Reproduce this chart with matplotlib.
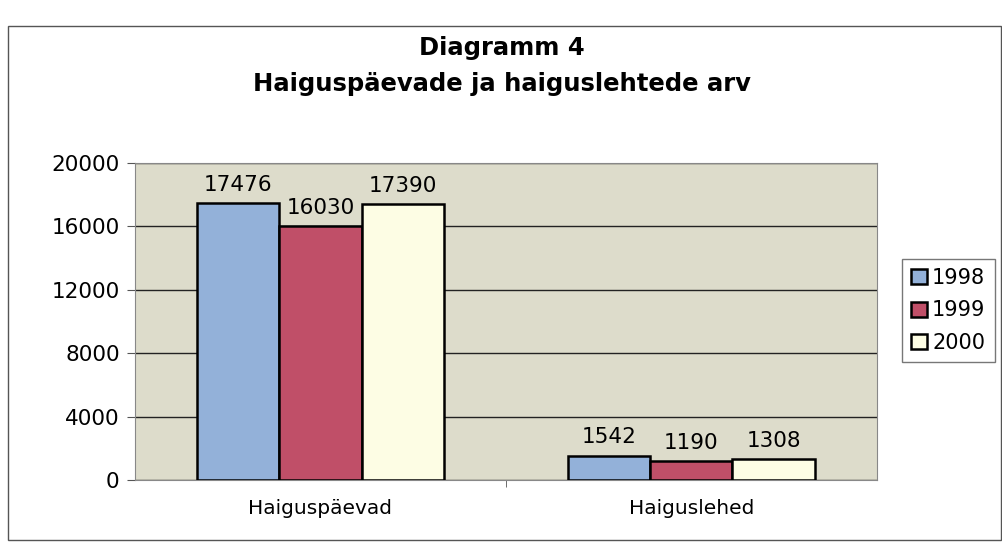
import numpy as np
import matplotlib.pyplot as plt
from matplotlib.patches import Rectangle

categories = ['Haiguspäevad', 'Haiguslehed']
years = ['1998', '1999', '2000']
values_1998 = [17476, 1542]
values_1999 = [16030, 1190]
values_2000 = [17390, 1308]
yticks = [0, 4000, 8000, 12000, 16000, 20000]

plt.rcParams['font.family'] = ['DejaVu Sans']

fig = plt.figure(figsize=(10.03, 5.47), dpi=100)
ax = fig.add_axes([0.1346, 0.1225, 0.7394, 0.5795])

#outer chart frame
fig.patches.append(Rectangle((0.008, 0.012), 0.99, 0.94, transform=fig.transFigure,
                             fill=False, edgecolor='#555555', linewidth=1.0))

x = np.arange(len(categories))
w = 0.222
colors = ['#93b1d9', '#c04f68', '#fdfde4']
series = [values_1998, values_1999, values_2000]
for i, (vals, c, lab) in enumerate(zip(series, colors, years)):
    bars = ax.bar(x + (i - 1) * w, vals, w, color=c, edgecolor='black', linewidth=1.8,
                  label=lab, zorder=3)
    for b, v in zip(bars, vals):
        ax.annotate(str(v), (b.get_x() + b.get_width() / 2, v), xytext=(0, 6),
                    textcoords='offset points', ha='center', va='bottom', fontsize=15.5)

ax.set_facecolor('#dddccb')
ax.set_xlim(-0.5, 1.5)
ax.set_ylim(0, 20000)
ax.set_yticks(yticks)
ax.set_yticklabels([str(t) for t in yticks], fontsize=15.5)
ax.yaxis.grid(True, color='#222222', linewidth=1.0, zorder=0)
ax.set_xticks(x)
ax.set_xticklabels(categories, fontsize=14.5)
ax.tick_params(axis='x', length=0, pad=14)
ax.tick_params(axis='y', length=6, color='#555555', pad=5)
ax.set_xticks([0.5], minor=True)
ax.tick_params(axis='x', which='minor', length=5, color='#555555')
for s in ax.spines.values():
    s.set_color('#888888')

fig.text(0.5, 0.912, 'Diagramm 4', ha='center', va='center', fontsize=17.5, fontweight='bold')
fig.text(0.5, 0.846, 'Haiguspäevade ja haiguslehtede arv', ha='center', va='center',
         fontsize=17.5, fontweight='bold')

leg = ax.legend(loc='center left', bbox_to_anchor=(1.034, 0.535), fontsize=15, frameon=True,
                fancybox=False, edgecolor='#555555', handlelength=0.75, handleheight=0.75,
                handletextpad=0.25, borderpad=0.45, labelspacing=0.6, borderaxespad=0)

fig.savefig('out.png', dpi=100, facecolor='white')
